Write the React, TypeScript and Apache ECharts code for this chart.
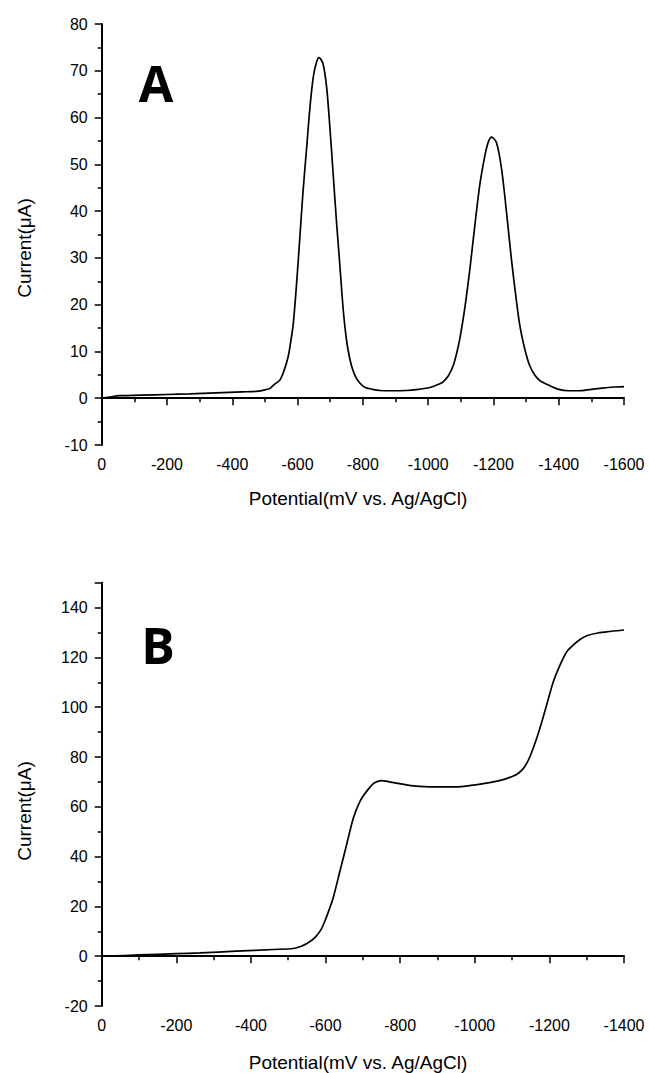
import React, { useEffect, useRef } from "react";
import * as echarts from "echarts";

// Panel A: differential pulse voltammogram (potential mV, current µA)
const potentialA: number[] = [0, -20, -56, -120, -200, -270, -350, -430, -480, -500, -515, -530, -546, -558, -571, -580, -587, -597, -607, -617, -628, -638, -648, -658, -666, -678, -689, -699, -709, -719, -730, -740, -748, -755, -765, -776, -790, -806, -830, -852, -883, -933, -970, -1005, -1036, -1046, -1062, -1077, -1087, -1097, -1112, -1128, -1143, -1158, -1174, -1184, -1194, -1209, -1225, -1240, -1255, -1271, -1281, -1291, -1301, -1311, -1326, -1342, -1372, -1400, -1430, -1460, -1500, -1540, -1570, -1600];
const currentA: number[] = [0, 0.2, 0.55, 0.65, 0.8, 0.95, 1.15, 1.35, 1.5, 1.8, 2.1, 3.0, 3.9, 5.8, 8.8, 12.5, 16, 24.5, 34.4, 44.4, 53.7, 62.2, 68.6, 71.8, 72.8, 71.5, 66.5, 57.9, 48, 38, 28, 18.8, 13.5, 10.2, 7, 4.85, 3.3, 2.35, 1.9, 1.65, 1.6, 1.65, 1.9, 2.3, 3.1, 3.5, 4.8, 7, 9.5, 12.7, 19.1, 27.7, 36.9, 45.5, 51.9, 54.7, 55.8, 54.7, 49, 39.8, 29.8, 20.5, 15.5, 12, 9.2, 7, 5.0, 3.8, 2.7, 1.9, 1.6, 1.6, 1.9, 2.2, 2.4, 2.5];

// Panel B: linear sweep voltammogram
const potentialB: number[] = [-10, -100, -200, -264, -360, -460, -514, -535, -550, -565, -577, -589, -599, -610, -621, -639, -657, -675, -693, -711, -728, -740, -751, -765, -782, -810, -836, -889, -952, -990, -1023, -1060, -1081, -1100, -1113, -1125, -1135, -1146, -1157, -1166, -1175, -1193, -1211, -1229, -1247, -1265, -1283, -1300, -1330, -1360, -1400];
const currentB: number[] = [0, 0.5, 1.0, 1.3, 2.0, 2.7, 3.1, 4, 5.1, 6.6, 8.4, 11, 14.4, 18.8, 23.7, 34.4, 45.1, 55.7, 62.4, 66.4, 69.3, 70.2, 70.5, 70.2, 69.7, 69.0, 68.4, 68.0, 68.0, 68.6, 69.3, 70.3, 71.1, 72.2, 73.1, 74.5, 76.4, 79.5, 83.7, 87.5, 91.7, 101.1, 110.4, 117.1, 122.4, 125.1, 127.3, 128.7, 129.8, 130.4, 131];

const xTitle = "Potential(mV vs. Ag/AgCl)";
const yTitle = "Current(\u03bcA)";
const panelLabels = ["A", "B"];

const FONT = "'Liberation Sans', Arial, sans-serif";

function xAxisCfg(gridIndex: number, min: number) {
  return {
    type: "value",
    gridIndex,
    min,
    max: 0,
    interval: 200,
    inverse: true,
    axisLine: { show: true, lineStyle: { color: "#000", width: 2 } },
    axisTick: { show: true, inside: false, length: 7, lineStyle: { color: "#000", width: 1.5 } },
    minorTick: { show: true, splitNumber: 2, length: 4, lineStyle: { color: "#000", width: 1.5 } },
    axisLabel: { color: "#000", fontSize: 16, fontFamily: FONT, margin: 11, formatter: (v: number) => String(v) },
    splitLine: { show: false },
    minorSplitLine: { show: false },
  };
}

function yAxisCfg(gridIndex: number, min: number, max: number, interval: number, showMax: boolean) {
  return {
    type: "value",
    gridIndex,
    min,
    max,
    interval,
    axisLine: { show: true, lineStyle: { color: "#000", width: 2 } },
    axisTick: { show: true, inside: false, length: 7, lineStyle: { color: "#000", width: 1.5 } },
    minorTick: { show: true, splitNumber: 2, length: 4, lineStyle: { color: "#000", width: 1.5 } },
    axisLabel: { color: "#000", fontSize: 16, fontFamily: FONT, margin: 14, showMaxLabel: showMax, formatter: (v: number) => String(v) },
    splitLine: { show: false },
    minorSplitLine: { show: false },
  };
}

function titleText(text: string, x: number, y: number, rotated: boolean) {
  return {
    type: "text",
    x,
    y,
    rotation: rotated ? Math.PI / 2 : 0,
    style: { text, fontSize: 19, fontFamily: FONT, fill: "#000", align: "center", verticalAlign: "middle" },
  };
}

function panelText(text: string, x: number, y: number) {
  return {
    type: "text",
    x,
    y,
    style: { text, fontSize: 50, fontWeight: "bold", fontFamily: "'Open Sans', sans-serif", fill: "#000", align: "center", verticalAlign: "middle" },
  };
}

export default function App() {
  const ref = useRef<HTMLDivElement>(null);
  useEffect(() => {
    if (!ref.current) return;
    const chart = echarts.init(ref.current, undefined, { renderer: "svg" });
    const dataA = potentialA.map((p, i) => [p, currentA[i]]);
    const dataB = potentialB.map((p, i) => [p, currentB[i]]);
    chart.setOption({
      animation: false,
      backgroundColor: "#fff",
      grid: [
        { left: 101.7, top: 24, width: 522.3, height: 421 },
        { left: 101.7, top: 582.7, width: 522.3, height: 423.3 },
      ],
      xAxis: [xAxisCfg(0, -1600), xAxisCfg(1, -1400)],
      yAxis: [yAxisCfg(0, -10, 80, 10, true), yAxisCfg(1, -20, 150, 20, false)],
      series: [
        {
          type: "line",
          xAxisIndex: 0,
          yAxisIndex: 0,
          data: dataA,
          showSymbol: false,
          smooth: 0.3,
          lineStyle: { color: "#000", width: 1.7 },
        },
        {
          type: "line",
          xAxisIndex: 1,
          yAxisIndex: 1,
          data: dataB,
          showSymbol: false,
          smooth: 0.3,
          lineStyle: { color: "#000", width: 1.7 },
        },
      ],
      graphic: [
        panelText(panelLabels[0], 156, 83),
        panelText(panelLabels[1], 158, 645),
        titleText(yTitle, 24, 248, true),
        titleText(yTitle, 24, 811, true),
        titleText(xTitle, 358, 498, false),
        titleText(xTitle, 358, 1062, false),
      ],
    });
    return () => chart.dispose();
  }, []);
  return (
    <div
      ref={ref}
      style={{ position: "fixed", left: 0, top: 0, width: 649, height: 1073, background: "#fff" }}
    />
  );
}
